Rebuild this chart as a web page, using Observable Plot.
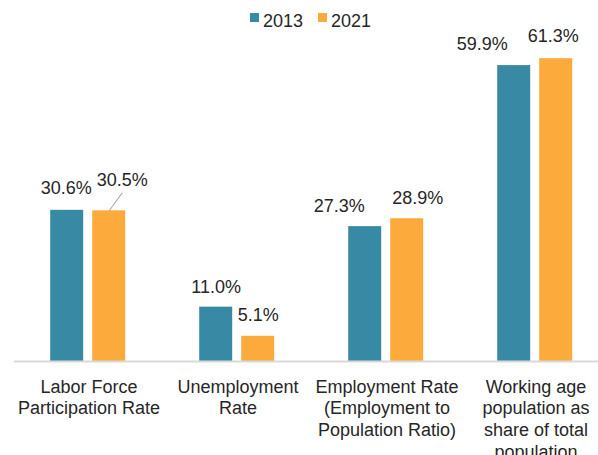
<!DOCTYPE html>
<html><head><meta charset="utf-8">
<script src="https://cdn.jsdelivr.net/npm/d3@7"></script>
<script src="https://cdn.jsdelivr.net/npm/@observablehq/plot@0.6"></script>
<style>
body{margin:0;background:#fff;font-family:"Liberation Sans",Arial,sans-serif;}
#wrap{position:relative;width:598px;height:455px;overflow:hidden;background:#fff}
#chart{position:absolute;left:0;top:0}
.sw{position:absolute;width:9px;height:9px;top:13px}
.lt{position:absolute;top:12px;font-size:18px;line-height:18px;color:#262626;white-space:nowrap}
</style></head><body>
<div id="wrap"><div id="chart"></div><div id="legend"></div></div>
<script>
const categories = [
  "Labor Force Participation Rate",
  "Unemployment Rate",
  "Employment Rate (Employment to Population Ratio)",
  "Working age population as share of total population"
];
const categoryLabels = [
  "Labor Force\nParticipation Rate",
  "Unemployment\nRate",
  "Employment Rate\n(Employment to\nPopulation Ratio)",
  "Working age\npopulation as\nshare of total\npopulation"
];
const years = ["2013", "2021"];
const values2013 = [30.6, 11.0, 27.3, 59.9];
const values2021 = [30.5, 5.1, 28.9, 61.3];
const colors = ["#388aa4", "#fcaa3c"];

// label placement nudges (pixels), per year, per category
const labelDx = {"2013": [-1, 0, -26, -32], "2021": [13, 0, 10.5, -3]};
const labelDy = {"2013": [-16, -14, -15, -16], "2021": [-25, -15, -15, -16.5]};

const series = {"2013": values2013, "2021": values2021};
const rows = [];
categories.forEach((c, i) => years.forEach(y => rows.push({category: c, year: y, value: series[y][i], idx: i})));

const textMarks = rows.map(r => Plot.text([r], {
  fx: "category", x: "year", y: "value",
  text: d => d.value.toFixed(1) + "%",
  dx: labelDx[r.year][r.idx], dy: labelDy[r.year][r.idx],
  lineAnchor: "bottom", fontSize: 18, fill: "#262626"
}));

const leader = rows.filter(r => r.idx === 0 && r.year === "2021");

const chart = Plot.plot({
  width: 598, height: 455,
  marginLeft: 12.8, marginRight: -14, marginTop: 15.2, marginBottom: 94,
  style: {fontFamily: "Liberation Sans, Arial, sans-serif", fontSize: "18px", color: "#262626", background: "white"},
  fx: {domain: categories, paddingInner: 0, paddingOuter: 0, label: null, axis: null},
  x: {domain: years, range: [48.8, 125.5], paddingInner: 0.204, paddingOuter: 0, axis: null},
  y: {domain: [0, 70], axis: null},
  color: {domain: years, range: colors},
  marks: [
    Plot.barY(rows, {fx: "category", x: "year", y: "value", fill: "year"}),
    Plot.ruleY([0], {stroke: "#d9d9d9", strokeWidth: 2}),
    Plot.vector(leader, {
      fx: "category", x: "year", y: "value",
      length: 21.9, rotate: 36, anchor: "start", stroke: "#a6a6a6", strokeWidth: 1,
      shape: {draw(ctx, l) { ctx.moveTo(0, 0); ctx.lineTo(0, -l); }}
    }),
    ...textMarks,
    Plot.axisFx({
      anchor: "bottom", tickSize: 0, tickPadding: 16, fontSize: 18, lineHeight: 1.2,
      tickFormat: d => categoryLabels[categories.indexOf(d)], label: null, fill: "#262626"
    })
  ]
});
document.getElementById("chart").appendChild(chart);

// legend
const lg = document.getElementById("legend");
const legendPos = [[250, 263], [318, 331]];
years.forEach((y, i) => {
  const s = document.createElement("div");
  s.className = "sw"; s.style.left = legendPos[i][0] + "px"; s.style.background = colors[i];
  const t = document.createElement("div");
  t.className = "lt"; t.style.left = legendPos[i][1] + "px"; t.textContent = y;
  lg.appendChild(s); lg.appendChild(t);
});
</script>
</body></html>
